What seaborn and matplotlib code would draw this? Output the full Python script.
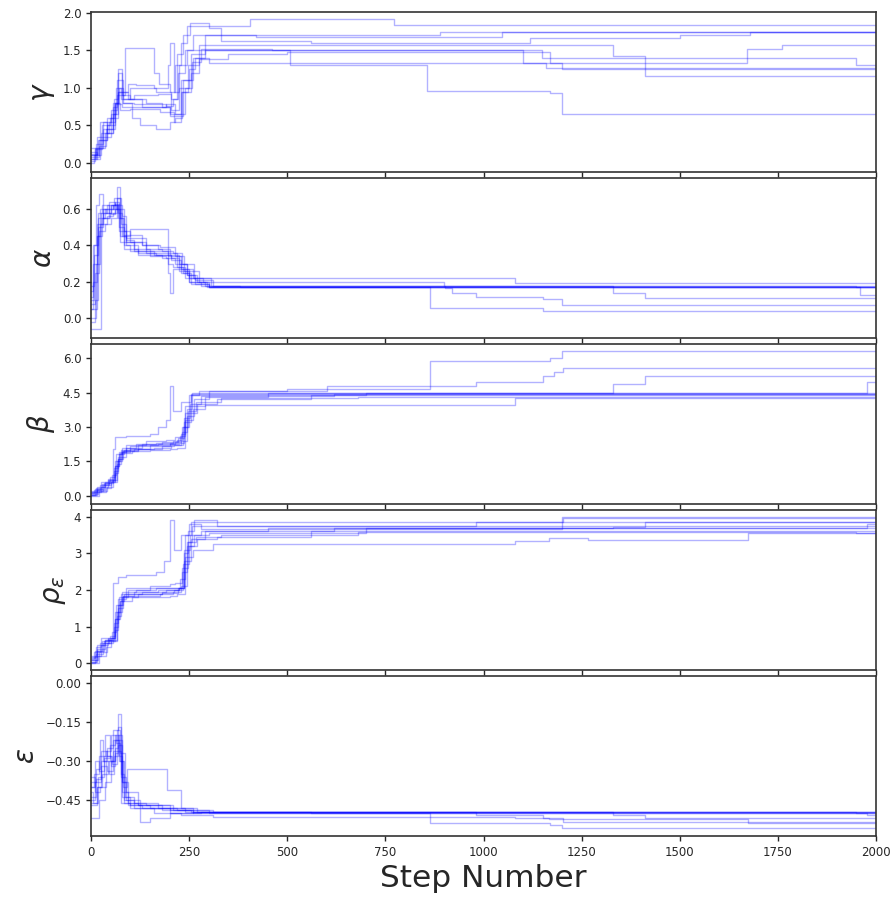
"""MCMC walker trace plot for the five model parameters."""

import matplotlib

matplotlib.use("Agg")
import matplotlib.pyplot as plt
import pandas as pd
import seaborn as sns

# walker traces as (step, value) breakpoints; drawn as steps
gamma_walkers = [
    [(0, 0.10), (12, 0.25), (30, 0.45), (50, 0.70), (65, 0.90), (86, 1.53), (160, 1.20), (172, 1.05), (200, 0.95), (215, 1.30), (230, 1.60), (245, 1.82), (405, 1.92), (773, 1.84), (2000, 1.84)],
    [(0, 0.05), (15, 0.20), (35, 0.40), (55, 0.65), (70, 0.95), (80, 0.80), (110, 0.78), (190, 0.76), (210, 0.85), (222, 1.20), (240, 1.50), (260, 1.70), (420, 1.68), (1046, 1.75), (2000, 1.75)],
    [(0, 0.00), (8, 0.10), (20, 0.30), (40, 0.50), (60, 0.60), (70, 1.20), (80, 0.95), (95, 0.85), (130, 0.75), (200, 0.62), (235, 1.10), (255, 1.45), (290, 1.70), (890, 1.74), (2000, 1.74)],
    [(0, 0.15), (15, 0.10), (25, 0.40), (45, 0.55), (60, 0.80), (75, 0.70), (100, 0.72), (175, 0.68), (212, 0.55), (230, 0.95), (248, 1.30), (275, 1.57), (1330, 1.43), (1411, 1.16), (2000, 1.16)],
    [(0, 0.05), (10, 0.20), (30, 0.35), (50, 0.45), (62, 0.80), (72, 1.00), (82, 0.85), (100, 1.00), (165, 0.95), (205, 0.70), (225, 1.00), (250, 1.25), (265, 1.40), (300, 1.33), (1670, 1.52), (1760, 1.57), (2000, 1.57)],
    [(0, 0.12), (18, 0.30), (40, 0.60), (58, 0.85), (68, 1.25), (78, 0.90), (100, 0.85), (140, 0.80), (180, 0.75), (200, 0.65), (228, 1.10), (260, 1.40), (290, 1.50), (1149, 1.40), (1950, 1.30), (2000, 1.30)],
    [(0, 0.08), (20, 0.22), (38, 0.45), (55, 0.75), (65, 1.10), (82, 0.80), (105, 0.60), (125, 0.50), (165, 0.45), (200, 0.55), (215, 0.60), (232, 0.95), (255, 1.20), (275, 1.38), (350, 1.45), (500, 1.48), (1170, 1.33), (1200, 1.25), (2000, 1.25)],
    [(0, 0.02), (10, 0.18), (28, 0.50), (48, 0.60), (60, 0.78), (80, 0.75), (190, 0.78), (215, 0.65), (240, 1.00), (258, 1.35), (280, 1.52), (460, 1.50), (1100, 1.33), (1160, 1.26), (2000, 1.26)],
    [(0, 0.20), (12, 0.05), (22, 0.55), (40, 0.40), (55, 0.80), (70, 0.95), (95, 1.05), (115, 1.04), (160, 1.00), (195, 1.30), (200, 1.60), (212, 0.95), (225, 1.30), (245, 1.50), (507, 1.30), (855, 0.96), (1170, 0.93), (1200, 0.65), (2000, 0.65)],
    [(0, 0.10), (14, 0.35), (30, 0.55), (52, 0.65), (64, 1.00), (76, 0.85), (110, 0.90), (170, 0.92), (205, 0.85), (218, 1.45), (235, 1.70), (252, 1.86), (300, 1.80), (330, 1.62), (560, 1.60), (1118, 1.66), (1501, 1.71), (1680, 1.75), (2000, 1.75)],
]

alpha_walkers = [
    [(0, 0.10), (8, 0.35), (18, 0.55), (35, 0.60), (55, 0.62), (68, 0.58), (80, 0.45), (100, 0.49), (196, 0.30), (210, 0.28), (235, 0.25), (250, 0.22), (1080, 0.193), (2000, 0.193)],
    [(0, 0.05), (6, 0.20), (15, 0.45), (28, 0.55), (45, 0.60), (58, 0.66), (75, 0.55), (85, 0.42), (110, 0.38), (150, 0.37), (195, 0.36), (218, 0.28), (240, 0.22), (265, 0.19), (300, 0.175), (2000, 0.175)],
    [(0, -0.02), (10, 0.10), (18, 0.50), (30, 0.58), (50, 0.62), (62, 0.64), (72, 0.50), (85, 0.40), (120, 0.35), (180, 0.33), (195, 0.25), (201, 0.14), (210, 0.27), (250, 0.20), (280, 0.18), (1950, 0.173), (1960, 0.13), (2000, 0.13)],
    [(0, -0.06), (26, 0.58), (40, 0.62), (55, 0.60), (65, 0.72), (75, 0.45), (90, 0.42), (130, 0.40), (170, 0.38), (200, 0.35), (225, 0.30), (245, 0.24), (270, 0.20), (300, 0.17), (864, 0.06), (1152, 0.04), (2000, 0.04)],
    [(0, 0.15), (5, 0.40), (12, 0.62), (20, 0.68), (30, 0.55), (48, 0.57), (62, 0.60), (72, 0.48), (88, 0.44), (140, 0.36), (195, 0.34), (230, 0.27), (260, 0.22), (285, 0.20), (900, 0.18), (1330, 0.137), (1411, 0.11), (2000, 0.11)],
    [(0, 0.00), (12, 0.30), (22, 0.52), (40, 0.56), (55, 0.58), (66, 0.66), (76, 0.52), (88, 0.40), (100, 0.37), (160, 0.35), (205, 0.33), (225, 0.26), (250, 0.20), (290, 0.18), (380, 0.17), (2000, 0.17)],
    [(0, 0.08), (10, 0.25), (20, 0.48), (35, 0.52), (50, 0.55), (65, 0.62), (78, 0.56), (90, 0.43), (110, 0.37), (150, 0.34), (190, 0.33), (215, 0.30), (245, 0.24), (265, 0.21), (310, 0.18), (2000, 0.18)],
    [(0, 0.18), (8, 0.40), (18, 0.58), (28, 0.62), (45, 0.58), (60, 0.63), (72, 0.60), (85, 0.48), (100, 0.42), (140, 0.38), (180, 0.37), (210, 0.36), (232, 0.30), (262, 0.22), (305, 0.18), (902, 0.165), (920, 0.138), (982, 0.12), (1152, 0.105), (1200, 0.075), (2000, 0.075)],
    [(0, 0.05), (14, 0.45), (24, 0.60), (38, 0.58), (52, 0.62), (64, 0.60), (74, 0.42), (84, 0.38), (120, 0.36), (165, 0.35), (205, 0.32), (228, 0.25), (255, 0.19), (300, 0.17), (2000, 0.17)],
    [(0, 0.12), (6, 0.30), (16, 0.52), (30, 0.60), (46, 0.64), (60, 0.62), (70, 0.55), (82, 0.46), (130, 0.40), (175, 0.39), (215, 0.34), (238, 0.26), (275, 0.20), (295, 0.175), (2000, 0.175)],
]

beta_walkers = [
    [(0, 0.10), (15, 0.25), (35, 0.55), (55, 2.05), (62, 2.55), (90, 2.62), (150, 2.70), (170, 3.00), (190, 3.30), (200, 4.80), (210, 3.70), (230, 4.10), (255, 4.40), (300, 4.55), (500, 4.65), (864, 5.88), (1169, 5.99), (1199, 6.32), (2000, 6.32)],
    [(0, 0.05), (12, 0.20), (30, 0.45), (50, 0.60), (62, 1.30), (72, 1.80), (85, 2.00), (120, 2.20), (170, 2.25), (215, 2.35), (228, 2.70), (240, 3.60), (250, 4.40), (275, 4.55), (600, 4.80), (982, 4.98), (1152, 5.22), (1180, 5.40), (1203, 5.59), (2000, 5.59)],
    [(0, 0.15), (10, 0.30), (28, 0.50), (45, 0.70), (58, 1.10), (68, 1.60), (80, 1.90), (100, 2.05), (150, 2.15), (200, 2.30), (222, 2.50), (238, 3.20), (255, 3.90), (290, 4.30), (450, 4.50), (1330, 4.86), (1411, 5.22), (2000, 5.22)],
    [(0, 0.00), (20, 0.20), (40, 0.40), (55, 0.70), (65, 1.50), (78, 1.95), (110, 2.05), (160, 2.10), (205, 2.20), (228, 2.40), (245, 3.50), (262, 4.20), (300, 4.40), (700, 4.50), (1976, 4.98), (2000, 4.98)],
    [(0, 0.20), (12, 0.35), (25, 0.60), (42, 0.75), (58, 1.20), (70, 1.70), (88, 2.10), (130, 2.25), (180, 2.35), (218, 2.45), (232, 2.80), (244, 3.80), (258, 4.50), (2000, 4.52)],
    [(0, 0.08), (18, 0.15), (38, 0.35), (52, 0.60), (66, 1.40), (76, 2.00), (100, 2.15), (150, 2.20), (200, 2.25), (225, 2.30), (236, 3.40), (252, 4.00), (280, 4.35), (620, 4.45), (2000, 4.45)],
    [(0, 0.12), (8, 0.25), (24, 0.45), (45, 0.65), (60, 1.30), (72, 1.90), (90, 2.20), (140, 2.40), (190, 2.45), (215, 2.55), (232, 3.00), (248, 3.70), (268, 4.10), (330, 4.25), (680, 4.30), (2000, 4.30)],
    [(0, 0.05), (14, 0.30), (32, 0.55), (48, 0.80), (62, 1.50), (75, 1.85), (105, 1.95), (150, 2.00), (200, 2.05), (220, 2.10), (240, 3.30), (260, 3.80), (290, 3.95), (1080, 4.25), (2000, 4.25)],
    [(0, 0.18), (16, 0.40), (36, 0.60), (54, 0.90), (64, 1.80), (78, 2.10), (115, 2.25), (165, 2.30), (210, 2.40), (226, 2.60), (240, 3.90), (255, 4.45), (2000, 4.47)],
    [(0, 0.02), (10, 0.15), (26, 0.40), (44, 0.70), (60, 1.00), (70, 1.60), (82, 1.95), (120, 2.05), (180, 2.15), (212, 2.20), (234, 3.00), (250, 3.60), (270, 4.00), (320, 4.20), (560, 4.40), (2000, 4.40)],
]

rho_walkers = [
    [(0, 0.10), (15, 0.40), (35, 0.65), (55, 2.20), (70, 2.35), (90, 2.40), (165, 2.50), (185, 2.80), (200, 3.90), (212, 3.10), (228, 3.50), (250, 3.80), (280, 3.66), (1199, 3.98), (2000, 3.98)],
    [(0, 0.05), (12, 0.25), (30, 0.55), (50, 0.70), (62, 1.20), (75, 1.70), (85, 1.90), (130, 1.95), (190, 2.00), (225, 2.05), (236, 3.00), (248, 3.60), (262, 3.90), (320, 3.75), (982, 3.85), (1203, 3.95), (2000, 3.95)],
    [(0, 0.15), (10, 0.35), (28, 0.60), (45, 0.70), (58, 1.00), (70, 1.60), (82, 1.85), (110, 1.90), (180, 1.92), (222, 2.05), (238, 2.80), (255, 3.40), (290, 3.60), (450, 3.70), (1330, 3.72), (1411, 3.85), (2000, 3.85)],
    [(0, 0.00), (20, 0.30), (40, 0.55), (55, 0.65), (66, 1.40), (78, 1.80), (120, 1.85), (175, 1.88), (210, 1.95), (228, 2.10), (245, 3.20), (262, 3.50), (300, 3.55), (700, 3.70), (1976, 3.80), (2000, 3.80)],
    [(0, 0.20), (12, 0.45), (25, 0.70), (42, 0.65), (58, 1.10), (70, 1.75), (88, 2.05), (218, 2.05), (232, 2.50), (244, 3.30), (258, 3.75), (2000, 3.75)],
    [(0, 0.08), (18, 0.20), (38, 0.45), (52, 0.60), (66, 1.30), (76, 1.90), (110, 1.95), (170, 2.00), (225, 2.05), (236, 3.10), (252, 3.50), (280, 3.62), (620, 3.68), (2000, 3.68)],
    [(0, 0.12), (8, 0.30), (24, 0.55), (45, 0.60), (60, 1.20), (72, 1.80), (95, 2.00), (150, 2.10), (200, 2.15), (215, 2.20), (232, 2.60), (248, 3.30), (268, 3.45), (330, 3.50), (680, 3.58), (1950, 3.55), (2000, 3.55)],
    [(0, 0.05), (14, 0.35), (32, 0.60), (48, 0.75), (62, 1.40), (75, 1.70), (105, 1.80), (200, 1.85), (220, 1.90), (240, 2.90), (260, 3.10), (312, 3.25), (1080, 3.34), (1166, 3.43), (1267, 3.36), (1675, 3.55), (2000, 3.55)],
    [(0, 0.18), (16, 0.50), (36, 0.65), (54, 0.85), (64, 1.60), (78, 1.95), (115, 2.00), (165, 2.05), (226, 2.30), (240, 3.50), (255, 3.85), (2000, 3.90)],
    [(0, 0.02), (10, 0.20), (26, 0.50), (44, 0.68), (60, 0.90), (70, 1.50), (82, 1.85), (120, 1.90), (180, 1.95), (212, 2.00), (234, 2.70), (250, 3.20), (270, 3.40), (320, 3.45), (560, 3.60), (2000, 3.62)],
]

eps_walkers = [
    [(0, -0.45), (10, -0.38), (25, -0.30), (40, -0.25), (55, -0.18), (68, -0.12), (76, -0.35), (85, -0.45), (110, -0.48), (200, -0.49), (300, -0.50), (864, -0.54), (1169, -0.545), (1199, -0.56), (2000, -0.56)],
    [(0, -0.40), (8, -0.35), (20, -0.28), (35, -0.20), (48, -0.30), (60, -0.22), (72, -0.30), (82, -0.40), (92, -0.33), (194, -0.41), (228, -0.48), (260, -0.495), (982, -0.51), (1152, -0.52), (1203, -0.535), (2000, -0.535)],
    [(0, -0.52), (20, -0.45), (35, -0.38), (50, -0.30), (62, -0.25), (70, -0.20), (80, -0.42), (95, -0.47), (130, -0.48), (200, -0.50), (280, -0.495), (1330, -0.51), (1411, -0.52), (2000, -0.52)],
    [(0, -0.38), (12, -0.33), (22, -0.22), (30, -0.30), (45, -0.35), (58, -0.28), (68, -0.24), (78, -0.44), (100, -0.47), (150, -0.48), (220, -0.49), (260, -0.50), (1976, -0.51), (2000, -0.51)],
    [(0, -0.46), (15, -0.40), (28, -0.35), (42, -0.30), (55, -0.26), (66, -0.18), (74, -0.30), (84, -0.46), (120, -0.47), (180, -0.49), (240, -0.495), (2000, -0.495)],
    [(0, -0.42), (6, -0.46), (18, -0.36), (32, -0.28), (50, -0.32), (62, -0.27), (70, -0.22), (78, -0.38), (90, -0.45), (125, -0.535), (150, -0.52), (200, -0.50), (260, -0.497), (2000, -0.497)],
    [(0, -0.36), (10, -0.42), (22, -0.40), (38, -0.26), (52, -0.20), (64, -0.23), (74, -0.27), (86, -0.44), (110, -0.46), (170, -0.48), (240, -0.49), (310, -0.497), (1950, -0.50), (2000, -0.50)],
    [(0, -0.47), (14, -0.40), (26, -0.32), (40, -0.34), (55, -0.22), (68, -0.17), (76, -0.46), (100, -0.48), (160, -0.50), (230, -0.51), (312, -0.515), (1080, -0.52), (1166, -0.525), (1675, -0.54), (2000, -0.54)],
    [(0, -0.40), (10, -0.30), (20, -0.34), (34, -0.29), (48, -0.24), (60, -0.20), (72, -0.28), (80, -0.38), (95, -0.46), (140, -0.47), (210, -0.49), (255, -0.495), (2000, -0.495)],
    [(0, -0.44), (12, -0.37), (26, -0.26), (40, -0.28), (54, -0.31), (66, -0.26), (76, -0.36), (88, -0.42), (120, -0.47), (200, -0.48), (270, -0.497), (560, -0.50), (2000, -0.50)],
]

param_labels = [r"$\gamma$", r"$\alpha$", r"$\beta$", r"$\rho_\varepsilon$", r"$\varepsilon$"]
param_walkers = [gamma_walkers, alpha_walkers, beta_walkers, rho_walkers, eps_walkers]
param_yticks = [
    [0.0, 0.5, 1.0, 1.5, 2.0],
    [0.0, 0.2, 0.4, 0.6],
    [0.0, 1.5, 3.0, 4.5, 6.0],
    [0, 1, 2, 3, 4],
    [-0.45, -0.30, -0.15, 0.00],
]
param_ylims = [(-0.12, 2.01), (-0.107, 0.77), (-0.36, 6.62), (-0.18, 4.18), (-0.589, 0.027)]
step_ticks = [0, 250, 500, 750, 1000, 1250, 1500, 1750, 2000]


def walkers_to_frame(walkers: list) -> pd.DataFrame:
    """Turn a list of walker breakpoint lists into a long DataFrame."""
    rows = []
    for i, walker in enumerate(walkers):
        for step, value in walker:
            rows.append({"walker": i, "step": step, "value": value})
    return pd.DataFrame(rows)


sns.set_style("ticks", {"axes.edgecolor": "0.2", "xtick.color": "0.15", "ytick.color": "0.15"})

fig, axes = plt.subplots(5, 1, figsize=(8.95, 9.0), dpi=100, sharex=True)
fig.subplots_adjust(left=0.1017, right=0.9788, top=0.9867, bottom=0.0711, hspace=0.0375)

for ax, walkers, label, ticks, ylim in zip(axes, param_walkers, param_labels, param_yticks, param_ylims):
    df = walkers_to_frame(walkers)
    sns.lineplot(
        data=df,
        x="step",
        y="value",
        units="walker",
        estimator=None,
        sort=False,
        color="b",
        alpha=0.3,
        lw=1,
        drawstyle="steps-post",
        ax=ax,
    )
    ax.set_ylabel(label, fontsize=20)
    ax.set_xlabel("")
    ax.set_yticks(ticks)
    ax.set_ylim(*ylim)
    ax.tick_params(labelsize=8.5, width=1, length=3.5)
    for spine in ax.spines.values():
        spine.set_linewidth(1.2)

axes[-1].set_xlim(0, 2000)
axes[-1].set_xticks(step_ticks)
axes[-1].set_xlabel("Step Number", fontsize=22.5)

plt.savefig("out.png", dpi=100)
plt.close()
